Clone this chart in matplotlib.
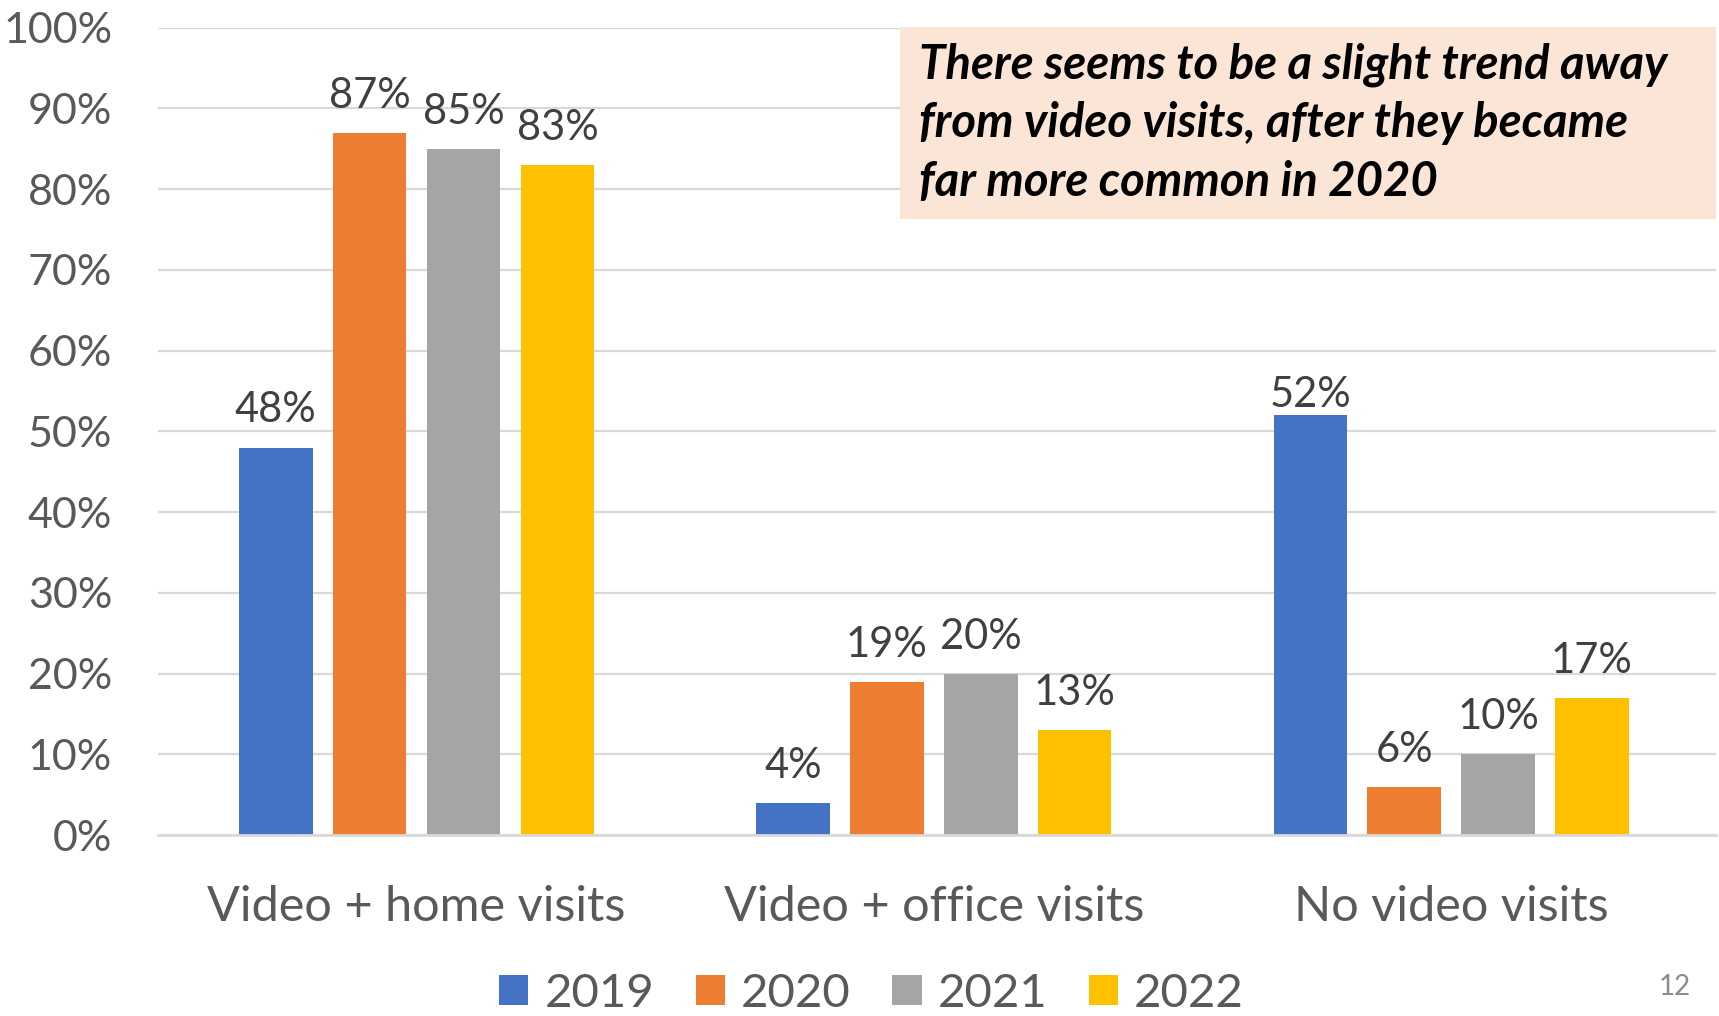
import numpy as np
import matplotlib.pyplot as plt
from matplotlib.patches import Rectangle
from matplotlib.ticker import PercentFormatter, MultipleLocator

plt.rcParams['font.family'] = ['Lato', 'DejaVu Sans']

categories = ['Video + home visits', 'Video + office visits', 'No video visits']
years = ['2019', '2020', '2021', '2022']
share_2019 = [48, 4, 52]
share_2020 = [87, 19, 6]
share_2021 = [85, 20, 10]
share_2022 = [83, 13, 17]
colors = ['#4472C4', '#ED7D31', '#A5A5A5', '#FFC000']

series = [share_2019, share_2020, share_2021, share_2022]

fig = plt.figure(figsize=(17.19, 10.16), dpi=100)
ax = fig.add_axes([0.0919, 0.1781, 0.9063, 0.7946])

x = np.arange(len(categories))
width = 0.142
step = 0.1815
for i, (vals, yr, c) in enumerate(zip(series, years, colors)):
    bars = ax.bar(x + (i - 1.5) * step, vals, width, color=c, label=yr, zorder=3)
    for j, (b, v) in enumerate(zip(bars, vals)):
        # the 2019 label of the last group sits closer to its bar
        pad = 1 if (i == 0 and j == 2) else 13
        ax.annotate(f'{v}%', (b.get_x() + b.get_width() / 2, v),
                    xytext=(0, pad), textcoords='offset points',
                    ha='center', va='bottom', fontsize=30, color='#404040')

ax.set_xlim(-0.5, 2.512)
ax.set_ylim(0, 100)
ax.yaxis.set_major_locator(MultipleLocator(10))
ax.yaxis.set_major_formatter(PercentFormatter(100, decimals=0))
ax.grid(axis='y', color='#D9D9D9', linewidth=1.6, zorder=0)
for s in ['top', 'right', 'left']:
    ax.spines[s].set_visible(False)
ax.spines['bottom'].set_color('#D9D9D9')
ax.spines['bottom'].set_linewidth(2)
ax.spines['bottom'].set_zorder(4)

ax.set_xticks(x)
ax.set_xticklabels(categories)
ax.tick_params(axis='x', length=0, pad=36, labelsize=35, labelcolor='#595959')
ax.tick_params(axis='y', length=0, pad=33, labelsize=31, labelcolor='#595959')

# note box in the top right corner
fig.patches.append(Rectangle((900 / 1719, 1 - 219 / 1016), 816 / 1719, 192 / 1016,
                             transform=fig.transFigure, facecolor='#FBE5D6',
                             edgecolor='none', zorder=5))
fig.text(919 / 1719, 1 - 123 / 1016,
         'There seems to be a slight trend away\n'
         'from video visits, after they became\n'
         'far more common in 2020',
         fontsize=34, fontweight='bold', fontstyle='italic', color='black',
         ha='left', va='center', linespacing=1.4, zorder=6)

fig.legend(loc='center', bbox_to_anchor=(0.507, 0.022), ncol=4, frameon=False,
           fontsize=34, labelcolor='#595959', handlelength=0.62, handleheight=0.62,
           handletextpad=0.34, columnspacing=0.88)

fig.text(1675 / 1719, 1 - 987 / 1016, '12', fontsize=20, color='#8C8C8C',
         ha='center', va='center')

plt.savefig('out.png', dpi=100)
